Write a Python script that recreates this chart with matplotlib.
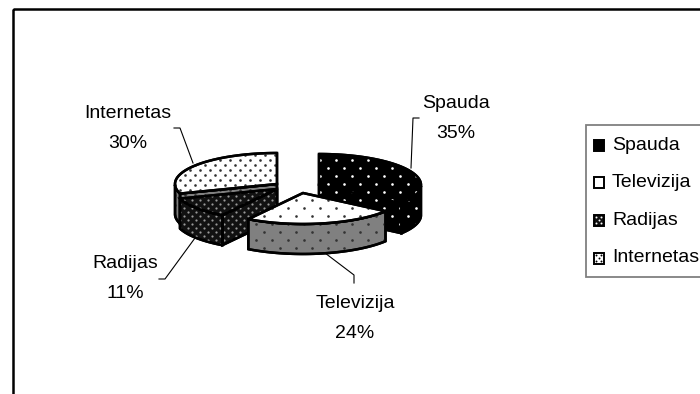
import numpy as np
import matplotlib
matplotlib.use('Agg')
import matplotlib.pyplot as plt
from matplotlib.patches import Polygon, Rectangle

plt.rcParams['font.family'] = ['Liberation Sans', 'DejaVu Sans']

labels = ['Spauda', 'Televizija', 'Radijas', 'Internetas']
shares = [35, 24, 11, 30]

# slice look: top colour, side colour, dot colour, dot step, dot size
top_col = ['black', 'white', '#111111', 'white']
side_col = ['black', '#808080', '#111111', '#808080']
dot_col = ['white', '#333333', '#999999', '#333333']
dot_step = [16, 16, 8, 10]
dot_size = [1.9, 1.9, 1.6, 1.9]
# slice centres in pixels (pie is pulled apart)
centres = [(319, 185), (303, 193), (277, 189), (277, 184)]

rx, ry, depth = 102, 31, 30

fig = plt.figure(figsize=(7, 3.94), dpi=100)
ax = fig.add_axes([0, 0, 1, 1])
ax.set_xlim(0, 700)
ax.set_ylim(394, 0)
ax.axis('off')


def dots(patch, i, z):
    step = dot_step[i]
    rows = np.arange(0, 394, step / 2)
    for r, y in enumerate(rows):
        xs = np.arange((r % 2) * step / 2, 700, step)
        pts = ax.plot(xs, np.full(len(xs), y), ls='none', marker='o', ms=dot_size[i], mfc=dot_col[i], mec='none', zorder=z)[0]
        pts.set_clip_path(patch)


def add_face(xy, fc, i, z):
    p = Polygon(xy, closed=True, fc=fc, ec='black', lw=1.8, zorder=z, joinstyle='round')
    ax.add_patch(p)
    dots(p, i, z + 0.1)
    # outline again over the dots
    ax.add_patch(Polygon(xy, closed=True, fc='none', ec='black', lw=1.8, zorder=z + 0.2))


def cut_face(cx, cy, px, py, i, z):
    cut = [(cx, cy), (px, py), (px, py + depth), (cx, cy + depth)]
    add_face(cut, side_col[i], i, z)


edges = np.cumsum([0] + shares) / sum(shares) * 2 * np.pi
order = [3, 2, 0, 1]
for k, i in enumerate(order):
    cx, cy = centres[i]
    t = np.linspace(edges[i], edges[i + 1], 60)
    ex = cx + rx * np.sin(t)
    ey = cy - ry * np.cos(t)
    z = 2 + k
    # cut faces, only those turned towards us
    if np.cos(t[0] - np.pi / 2) < 0:
        cut_face(cx, cy, ex[0], ey[0], i, z)
    if np.cos(t[-1] + np.pi / 2) < 0:
        cut_face(cx, cy, ex[-1], ey[-1], i, z)
    # rim: only the part of the arc that faces us
    front = (t > np.pi / 2) & (t < 3 * np.pi / 2)
    if front.any():
        fx, fy = ex[front], ey[front]
        rim = np.r_[np.c_[fx, fy], np.c_[fx[::-1], fy[::-1] + depth]]
        add_face(rim, side_col[i], i, z + 0.3)
    top = np.r_[[[cx, cy]], np.c_[ex, ey]]
    add_face(top, top_col[i], i, z + 0.5)

# chart area border, runs off the picture on the right and bottom
ax.add_patch(Rectangle((12.5, 9), 800, 500, fc='none', ec='black', lw=1.8, zorder=1))

# data labels with leader lines
label_pos = [(456, 103), (355, 303), (125, 263), (128, 113)]
leaders = [
    [(419, 118), (413, 118), (411, 168)],
    [(325, 253), (354, 275), (354, 283)],
    [(195, 238), (165, 279), (159, 279)],
    [(174, 128), (180, 128), (193, 163)],
]
for i, name in enumerate(labels):
    x, y = label_pos[i]
    ax.text(x, y, name, ha='center', va='center', fontsize=14, color='black', zorder=20)
    ax.text(x, y + 30, f'{shares[i]}%', ha='center', va='center', fontsize=14, color='black', zorder=20)
    lx, ly = zip(*leaders[i])
    ax.plot(lx, ly, color='black', lw=0.8, zorder=19)

# legend
ax.add_patch(Rectangle((586, 125), 200, 152, fc='white', ec='#808080', lw=1.3, zorder=1))
leg_y = [145, 182, 220, 258]
leg_col = ['black', 'white', '#111111', 'white']
for i, name in enumerate(labels):
    y = leg_y[i]
    ax.add_patch(Rectangle((593.5, y - 5.5), 10, 11, fc=leg_col[i], ec='black', lw=1.4, zorder=5))
    if i >= 2:
        c = 'white' if i == 2 else 'black'
        ax.plot([596, 601, 598.5, 596, 601], [y - 3, y - 3, y, y + 3, y + 3], ls='none', marker='o', ms=1.4, mfc=c, mec='none', zorder=6)
    ax.text(612, y, name, ha='left', va='center', fontsize=14, color='black', zorder=6)

fig.savefig('out.png', dpi=100)
